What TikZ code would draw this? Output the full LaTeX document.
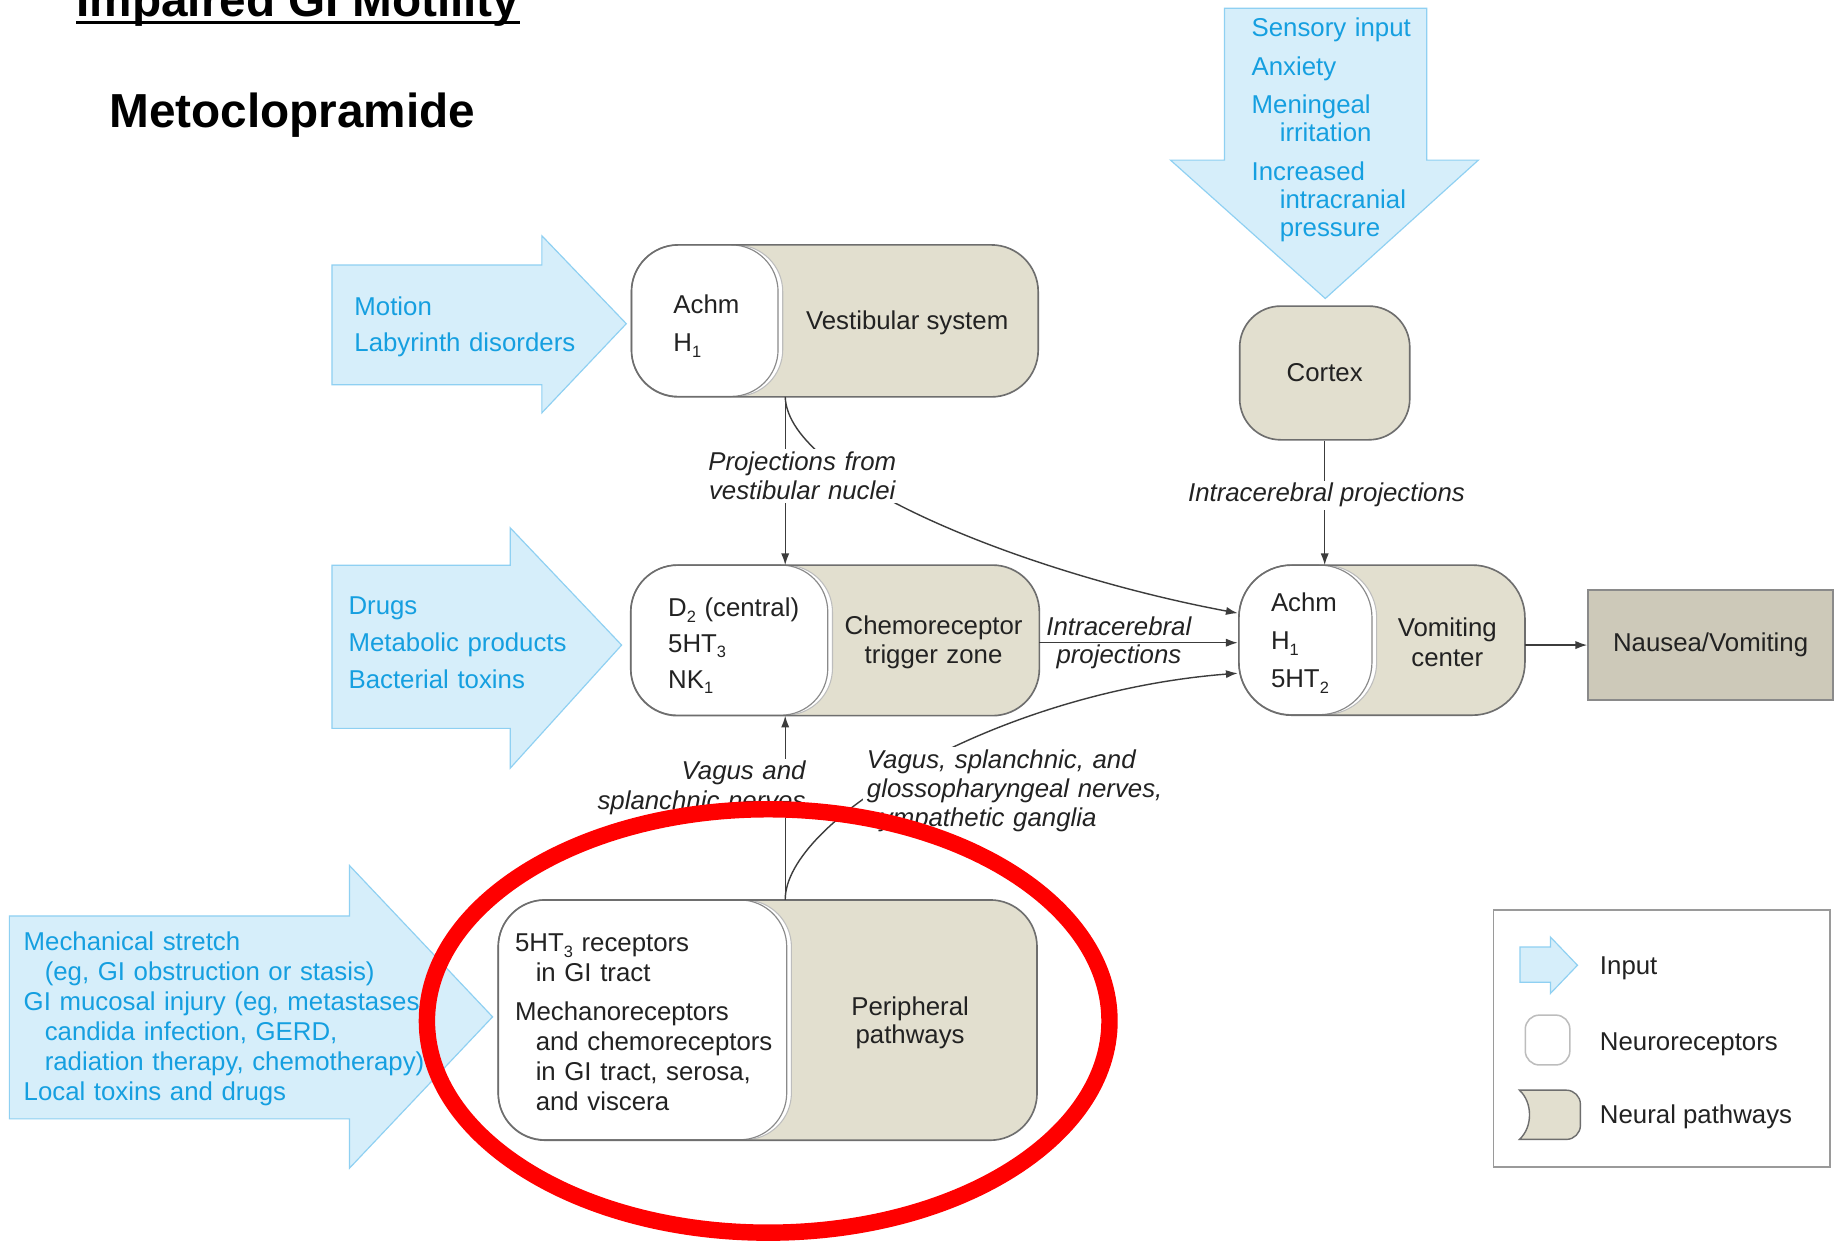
\documentclass[tikz,border=0pt]{standalone}
\usepackage{fontspec}
\setmainfont{Liberation Sans}
\usetikzlibrary{arrows.meta,calc}

\definecolor{inFill}{HTML}{D6EEFA}
\definecolor{inEdge}{HTML}{8FD0F2}
\definecolor{inText}{HTML}{159FE0}
\definecolor{tanFill}{HTML}{E2DFCF}
\definecolor{boxEdge}{HTML}{6E6E6E}
\definecolor{recEdge}{HTML}{8A8A8A}
\definecolor{recHalo}{HTML}{BDBDBD}
\definecolor{ink}{HTML}{222222}
\definecolor{lineC}{HTML}{3C3C3C}
\definecolor{outFill}{HTML}{CDC9B9}
\definecolor{outEdge}{HTML}{8A8A8A}
\definecolor{legEdge}{HTML}{9A9A9A}
\definecolor{markRed}{HTML}{FF0000}

% 22pt text with a chosen line spacing
\newcommand{\fsz}[1]{\fontsize{22}{#1}\selectfont}
% lowered small index, as in H1, 5HT3
\newcommand{\lowsub}[1]{\raisebox{-4.5pt}{\fontsize{14}{14}\selectfont #1}}

\begin{document}
\begin{tikzpicture}[x=1pt, y=-1pt,
  txt/.style={inner sep=0pt, text=ink},
  bluetxt/.style={inner sep=0pt, text=inText, align=left},
  inarrow/.style={fill=inFill, draw=inEdge, line width=1pt, line join=miter},
  pathfill/.style={fill=tanFill, draw=none, inner sep=0pt},
  boxline/.style={draw=boxEdge, line width=1.4pt},
  rechalo/.style={fill=white, draw=recHalo, line width=0.9pt},
  recpart/.style={fill=white, draw=recEdge, line width=1pt},
  conn/.style={draw=lineC, line width=1.2pt, -{Latex[length=10pt,width=7pt]}},
  lbl/.style={inner xsep=3pt, inner ysep=2pt, fill=white, text=ink},
  lblplain/.style={inner sep=0pt, text=ink},
]
\useasboundingbox (0,0) rectangle (1568,1061);
\fill[white] (0,0) rectangle (1568,1061);

% ---------- headings ----------
\node[txt, anchor=base west, text=black, font=\fontsize{40.7}{44}\selectfont\bfseries] (title) at (65,14) {Impaired GI Motility};
\draw[black, line width=2.5pt] ($(title.base west)+(0,5.5)$) -- ($(title.base east)+(0,5.5)$);
\node[txt, anchor=base west, text=black, font=\fontsize{40.7}{44}\selectfont\bfseries] (drug) at (93,109) {Metoclopramide};

% ---------- input arrows ----------
\draw[inarrow] (283,226) -- (462,226) -- (462,201) -- (534,276) -- (462,352) -- (462,328) -- (283,328) -- cycle;
\node[bluetxt, text width=220pt, anchor=base west, font=\fsz{31}] (motiontxt) at (302,269) {Motion\\Labyrinth disorders};

\draw[inarrow] (283,482) -- (435,482) -- (435,450) -- (530,550) -- (435,655) -- (435,621) -- (283,621) -- cycle;
\node[bluetxt, text width=220pt, anchor=base west, font=\fsz{31.5}] (drugtxt) at (297,524) {Drugs\\Metabolic products\\Bacterial toxins};

\draw[inarrow] (8,781) -- (298,781) -- (298,738) -- (420,867) -- (298,996) -- (298,954) -- (8,954) -- cycle;
\node[bluetxt, text width=420pt, anchor=base west, font=\fsz{25.6}] (mechtxt) at (20,810) {Mechanical stretch\\\hspace*{18pt}(eg, GI obstruction or stasis)\\GI mucosal injury (eg, metastases,\\\hspace*{18pt}candida infection, GERD,\\\hspace*{18pt}radiation therapy, chemotherapy)\\Local toxins and drugs};

\draw[inarrow] (1044,7) -- (1216.5,7) -- (1216.5,136.5) -- (1260.5,136.5) -- (1130,254.5) -- (998,136.5) -- (1044,136.5) -- cycle;
\node[bluetxt, text width=200pt, anchor=base west, font=\fsz{24.2}] (senstxt) at (1067,31.3) {Sensory input\\[8.5pt]Anxiety\\[8.5pt]Meningeal\\\hspace*{24pt}irritation\\[8.5pt]Increased\\\hspace*{24pt}intracranial\\\hspace*{24pt}pressure};

% ---------- vestibular system ----------
\node[pathfill, rounded corners=40pt, minimum width=346.4pt, minimum height=129.2pt] (vest) at (711.8,273.6) {};
\draw[rechalo, rounded corners=40pt] (vest.north west) rectangle ++(129,129.2);
\draw[recpart, rounded corners=40pt] (vest.north west) rectangle ++(125,129.2);
\draw[boxline, rounded corners=40pt] (vest.north west) rectangle (vest.south east);
\node[txt, text width=80pt, align=left, anchor=base west, font=\fsz{33}] (vestrec) at (574,267) {Achm\\H\lowsub{1}};
\node[txt, anchor=base, font=\fsz{25}] (vestname) at (773.5,281) {Vestibular system};

% ---------- chemoreceptor trigger zone ----------
\node[pathfill, rounded corners=40pt, minimum width=348pt, minimum height=128pt] (ctz) at (712,546) {};
\draw[rechalo, rounded corners=40pt] (ctz.north west) rectangle ++(172,128);
\draw[recpart, rounded corners=40pt] (ctz.north west) rectangle ++(168,128);
\draw[boxline, rounded corners=40pt] (ctz.north west) rectangle (ctz.south east);
\node[txt, text width=130pt, align=left, anchor=base west, font=\fsz{30.5}] (ctzrec) at (569.5,526) {D\lowsub{2} (central)\\5HT\lowsub{3}\\NK\lowsub{1}};
\node[txt, text width=170pt, align=center, anchor=base, font=\fsz{24.5}] (ctzname) at (796,541.4) {Chemoreceptor\\trigger zone};

% ---------- vomiting center ----------
\node[pathfill, rounded corners=45pt, minimum width=243.5pt, minimum height=127.6pt] (vom) at (1178.25,545.8) {};
\draw[rechalo, rounded corners=45pt] (vom.north west) rectangle ++(117.5,127.6);
\draw[recpart, rounded corners=45pt] (vom.north west) rectangle ++(113.5,127.6);
\draw[boxline, rounded corners=45pt] (vom.north west) rectangle (vom.south east);
\node[txt, text width=80pt, align=left, anchor=base west, font=\fsz{32.5}] (vomrec) at (1083.5,521.6) {Achm\\H\lowsub{1}\\5HT\lowsub{2}};
\node[txt, text width=110pt, align=center, anchor=base, font=\fsz{25.5}] (vomname) at (1234,543) {Vomiting\\center};

% ---------- cortex ----------
\node[fill=tanFill, boxline, rounded corners=35pt, minimum width=145pt, minimum height=114pt, inner sep=0pt, text=ink, font=\fsz{26}] (cortex) at (1129.5,318) {Cortex};

% ---------- outcome ----------
\node[fill=outFill, draw=outEdge, line width=1.4pt, minimum width=209pt, minimum height=94pt, inner sep=0pt, text=ink, font=\fsz{26}] (naus) at (1458.5,550) {Nausea/Vomiting};

% ---------- peripheral pathways ----------
\node[pathfill, rounded corners=40pt, minimum width=459pt, minimum height=204.5pt] (peri) at (654.5,869.75) {};
\draw[rechalo, rounded corners=40pt] (peri.north west) rectangle ++(250,204.5);
\draw[recpart, rounded corners=40pt] (peri.north west) rectangle ++(246,204.5);
\draw[boxline, rounded corners=40pt] (peri.north west) rectangle (peri.south east);
\node[txt, text width=240pt, align=left, anchor=base west, font=\fsz{25.6}] (perirec) at (439,811.5) {5HT\lowsub{3} receptors\\\hspace*{17.6pt}in GI tract\\[7.1pt]Mechanoreceptors\\\hspace*{17.6pt}and chemoreceptors\\\hspace*{17.6pt}in GI tract, serosa,\\\hspace*{17.6pt}and viscera};
\node[txt, text width=140pt, align=center, anchor=base, font=\fsz{24.5}] (periname) at (776,865.5) {Peripheral\\pathways};

% ---------- connectors ----------
\coordinate (vx) at (669.5,0);
\draw[conn] (vest.south -| vx) -- (ctz.north -| vx);
\draw[conn] (vest.south -| vx) .. controls (672,410) and (880,490) .. ($(vom.west)+(-1,-23)$);
\draw[conn] (cortex.south) -- (cortex.south |- vom.north);
\draw[conn] ($(ctz.east)+(0,2)$) -- ($(ctz.east -| vom.west)+(-1,2)$);
\draw[conn] (peri.north -| vx) -- (ctz.south -| vx);
\draw[conn] (peri.north -| vx) .. controls (669,700) and (850,590) .. ($(vom.west)+(-1,28.2)$);
\draw[conn] (vom.east |- naus.west) -- (naus.west);

% ---------- connector labels ----------
\node[lbl, text width=166pt, align=center, anchor=base, font=\fsz{25.5}\itshape] (lblvest) at (684,400.8) {Projections from\\vestibular nuclei};
\node[lbl, anchor=base, font=\fsz{26}\itshape] (lblcort) at (1131,428) {Intracerebral projections};
\node[lblplain, anchor=base, font=\fsz{26}\itshape] (lblia) at (954,541.5) {Intracerebral};
\node[lblplain, anchor=base, font=\fsz{26}\itshape] (lblib) at (954,566) {projections};
\node[lbl, text width=178pt, align=right, anchor=base east, font=\fsz{25.5}\itshape] (lblvag) at (690,665) {Vagus and\\splanchnic nerves};
\node[lbl, text width=256pt, align=left, anchor=base west, font=\fsz{25}\itshape] (lblglos) at (736,655) {Vagus, splanchnic, and\\glossopharyngeal nerves,\\sympathetic ganglia};

% ---------- legend ----------
\node[draw=legEdge, line width=1.5pt, fill=white, minimum width=287pt, minimum height=219pt, inner sep=0pt] (legend) at (1416.9,885.4) {};
\draw[inarrow] (1296,807.5) -- (1322,807.5) -- (1322,799) -- (1345,823) -- (1322,847) -- (1322,837.5) -- (1296,837.5) -- cycle;
\draw[fill=white, draw=recHalo, line width=1.3pt, rounded corners=12pt] (1300.5,865.5) rectangle (1338.5,908);
\draw[fill=tanFill, draw=boxEdge, line width=1.2pt] (1295.5,929.5) -- (1335.5,929.5) .. controls (1342.1,929.5) and (1347.5,934.9) .. (1347.5,941.5) -- (1347.5,959.5) .. controls (1347.5,966.1) and (1342.1,971.5) .. (1335.5,971.5) -- (1295.5,971.5) .. controls (1307,961) and (1307,940) .. cycle;
\node[txt, anchor=base west, font=\fsz{26}] (leginput) at (1364,831.3) {Input};
\node[txt, anchor=base west, font=\fsz{26}] (legrec) at (1364,895.3) {Neuroreceptors};
\node[txt, anchor=base west, font=\fsz{26}] (legpath) at (1364,957.8) {Neural pathways};

% ---------- highlight ring ----------
\draw[markRed, line width=14pt] (655,870.5) ellipse [x radius=291pt, y radius=180.5pt];
\end{tikzpicture}
\end{document}
